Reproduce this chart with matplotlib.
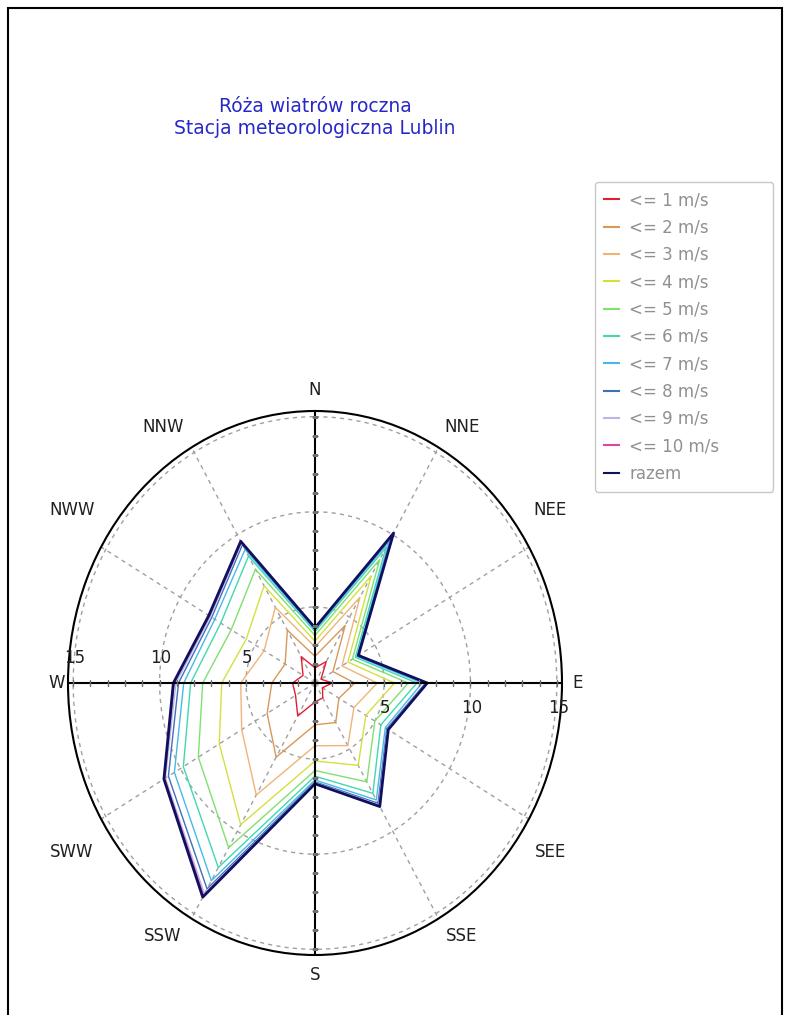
import numpy as np
import matplotlib
matplotlib.use("Agg")
import matplotlib.pyplot as plt
from matplotlib.patches import Rectangle

plt.rcParams['font.family'] = ['DejaVu Sans']

# kierunki (co 30 stopni, zgodnie z ruchem wskazowek zegara od N)
kierunki = ['N', 'NNE', 'NEE', 'E', 'SEE', 'SSE', 'S', 'SSW', 'SWW', 'W', 'NWW', 'NNW']
katy = [0, 30, 60, 90, 120, 150, 180, 210, 240, 270, 300, 330]

# czestosci skumulowane [%] dla kolejnych klas predkosci
v1 = [1.8, 2.3, 1.4, 2.0, 1.5, 1.9, 2.0, 3.0, 2.3, 2.3, 1.8, 2.6]
v2 = [2.4, 4.5, 2.2, 3.3, 2.6, 3.4, 3.2, 5.5, 4.2, 3.5, 3.0, 4.2]
v3 = [2.9, 6.2, 2.8, 4.6, 3.6, 4.8, 4.3, 7.8, 5.9, 5.3, 4.4, 5.6]
v4 = [3.2, 7.5, 3.2, 5.6, 4.4, 6.0, 5.1, 9.6, 7.4, 6.4, 5.6, 6.9]
v5 = [3.5, 8.5, 3.5, 6.4, 5.0, 7.0, 5.6, 11.0, 8.8, 7.5, 6.6, 7.9]
v6 = [3.7, 9.2, 3.7, 6.9, 5.4, 7.7, 5.9, 12.2, 9.8, 8.2, 7.3, 8.7]
v7 = [3.8, 9.6, 3.8, 7.2, 5.7, 8.1, 6.1, 13.0, 10.4, 8.6, 7.7, 9.1]
v8 = [3.85, 9.9, 3.85, 7.4, 5.8, 8.3, 6.2, 13.5, 10.8, 8.9, 7.9, 9.4]
v9 = [3.9, 10.0, 3.9, 7.45, 5.85, 8.4, 6.25, 13.8, 11.0, 9.05, 8.0, 9.5]
v10 = [3.9, 10.05, 3.9, 7.5, 5.9, 8.45, 6.3, 13.9, 11.05, 9.15, 8.05, 9.55]
razem = [3.9, 10.1, 3.9, 7.5, 5.9, 8.5, 6.3, 14.0, 11.1, 9.2, 8.1, 9.6]

serie = [v1, v2, v3, v4, v5, v6, v7, v8, v9, v10, razem]
etykiety = ['<= 1 m/s', '<= 2 m/s', '<= 3 m/s', '<= 4 m/s', '<= 5 m/s', '<= 6 m/s',
            '<= 7 m/s', '<= 8 m/s', '<= 9 m/s', '<= 10 m/s', 'razem']
kolory = ['#e02030', '#d89858', '#f0b478', '#d4e040', '#80e070', '#40d8b0',
          '#48b8e8', '#4070b8', '#b8b8e8', '#d848a8', '#101060']
grubosci = [1.0] * 10 + [2.0]

W, H = 785, 1015
fig = plt.figure(figsize=(W / 100, H / 100), dpi=100)

# ramka wokol rysunku
fig.patches.append(Rectangle((8 / W, -0.01), 774 / W, 1 - 8 / H + 0.01,
                             transform=fig.transFigure, fill=False,
                             edgecolor='black', lw=1.5))

fig.text(315 / W, 1 - 107 / H, 'Róża wiatrów roczna', color='#2828c8',
         ha='center', va='center', fontsize=13.5)
fig.text(315 / W, 1 - 129 / H, 'Stacja meteorologiczna Lublin', color='#2828c8',
         ha='center', va='center', fontsize=13.5)

ax = fig.add_axes([68 / W, 60 / H, 494 / W, 544 / H], projection='polar')
ax.set_aspect('auto')
ax.set_theta_zero_location('N')
ax.set_theta_direction(-1)
ax.set_ylim(1, 15.3)

th = np.deg2rad(katy + [katy[0]])

# siatka
ax.set_rgrids([5, 10, 15])
ax.set_thetagrids([30, 60, 120, 150, 210, 240, 300, 330])
ax.set_xticklabels([])
ax.set_yticklabels([])
ax.grid(True, color='#a0a0a0', linestyle=(0, (3, 3)), linewidth=1)
ax.spines['polar'].set_color('black')
ax.spines['polar'].set_linewidth(1.5)

for i in range(len(serie)):
    ax.plot(th, serie[i] + [serie[i][0]], color=kolory[i], lw=grubosci[i],
            label=etykiety[i], zorder=3 + i * 0.01)

# osie glowne
for k in [0, 90, 180, 270]:
    ax.plot([np.deg2rad(k), np.deg2rad(k)], [1, 15.3], color='black', lw=1.5, zorder=5)
    rr = np.arange(2, 16)
    ax.plot(np.full(len(rr), np.deg2rad(k)), rr, linestyle='none',
            marker='|' if k in (90, 270) else '_', markersize=4, color='#707070', zorder=5)

# opisy kierunkow (polozenie w pikselach rysunku)
pozycje = [(315, 390), (462, 427), (550, 510), (578, 683), (550, 852), (462, 936),
           (315, 975), (163, 936), (72, 852), (57, 683), (72, 510), (163, 427)]
for (px, py), n in zip(pozycje, kierunki):
    fig.text(px / W, 1 - py / H, n, ha='center', va='center', fontsize=12, color='#202020')

# opisy skali
for v in [5, 10, 15]:
    ax.annotate(str(v), xy=(np.deg2rad(90), v), xytext=(1, -18), textcoords='offset points',
                ha='center', va='center', fontsize=12, color='#202020', zorder=6)
    ax.annotate(str(v), xy=(np.deg2rad(270), v), xytext=(1, 18), textcoords='offset points',
                ha='center', va='center', fontsize=12, color='#202020', zorder=6)

leg = fig.legend(loc='upper left', bbox_to_anchor=(595 / W, 1 - 182 / H - 0.01, 178 / W, 0.01),
                 mode='expand', fontsize=12, labelspacing=0.56, handlelength=0.9,
                 handletextpad=0.6, borderpad=0.55, fancybox=True, edgecolor='#c8c8c8',
                 framealpha=1, borderaxespad=0)
for t in leg.get_texts():
    t.set_color('#909090')
for h in leg.get_lines():
    h.set_linewidth(1.5)

fig.savefig('out.png', dpi=100)
